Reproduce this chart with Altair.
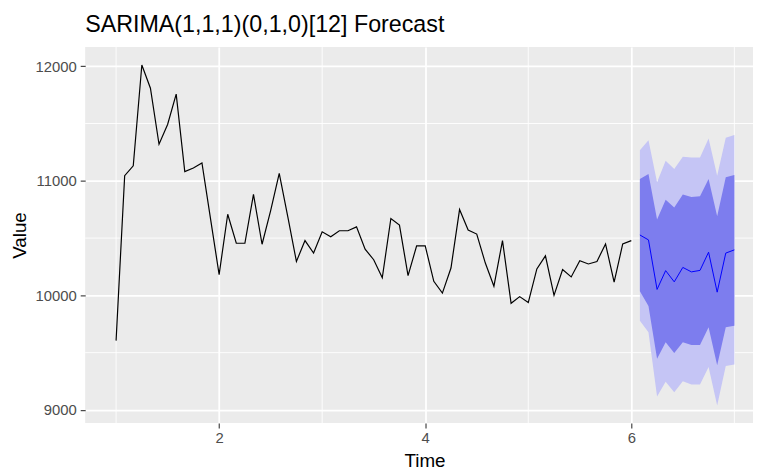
import altair as alt
import pandas as pd

# ---- data ----
chart_title = "SARIMA(1,1,1)(0,1,0)[12] Forecast"
start_time = 1
frequency = 12

obs_values = [9605, 11045, 11131, 12010, 11808, 11319, 11491, 11756, 11080, 11111, 11155, 10668,
              10181, 10708, 10455, 10455, 10881, 10446, 10740, 11065, 10685, 10296, 10478, 10369,
              10555, 10512, 10564, 10564, 10598, 10403, 10311, 10153, 10671, 10613, 10173, 10432,
              10432, 10123, 10020, 10239, 10749, 10570, 10535, 10282, 10080, 10478, 9931, 9989,
              9937, 10231, 10345, 10000, 10225, 10161, 10302, 10274, 10296, 10449, 10115, 10449,
              10478]

fc_mean = [10527, 10484, 10052, 10216, 10118, 10244, 10205, 10218, 10377, 10028, 10369, 10397]
hi80 = [11016, 11060, 10662, 10835, 10766, 10881, 10858, 10864, 11016, 10691, 11031, 11051]
lo80 = [10037, 9908, 9447, 9591, 9497, 9591, 9568, 9568, 9721, 9390, 9721, 9735]
hi95 = [11267, 11353, 10987, 11174, 11103, 11209, 11203, 11203, 11370, 11045, 11376, 11399]
lo95 = [9778, 9678, 9117, 9246, 9154, 9251, 9223, 9223, 9376, 9039, 9384, 9396]

x_major = [2, 4, 6]
x_minor = [1, 3, 5, 7]
y_major = [9000, 10000, 11000, 12000]
y_minor = [9500, 10500, 11500]

# ---- tables ----
time_obs = [start_time + i / frequency for i in range(len(obs_values))]
time_fc = [time_obs[-1] + (i + 1) / frequency for i in range(len(fc_mean))]

obs_df = pd.DataFrame({"time": time_obs, "value": obs_values})
fc_df = pd.DataFrame({"time": time_fc, "value": fc_mean,
                      "lo80": lo80, "hi80": hi80, "lo95": lo95, "hi95": hi95})
xminor_df = pd.DataFrame({"time": x_minor})
yminor_df = pd.DataFrame({"value": y_minor})

FONT = "Liberation Sans"
x_scale = alt.Scale(domain=[0.7, 7.181], nice=False, zero=False)
y_scale = alt.Scale(domain=[8886, 12167], nice=False, zero=False)

x_axis = alt.Axis(values=x_major, format="d", grid=True, gridColor="white", gridWidth=1.8,
                  domain=False, tickColor="#333333", tickSize=5, tickWidth=1.1,
                  labelColor="#4D4D4D", labelFontSize=15, labelFont=FONT, labelPadding=3,
                  title="Time", titleFont=FONT, titleFontSize=19, titleFontWeight="normal",
                  titleColor="black", titleX=343, titleY=44, titleBaseline="alphabetic",
                  titleAlign="center")
y_axis = alt.Axis(values=y_major, format="d", grid=True, gridColor="white", gridWidth=1.8,
                  domain=False, tickColor="#333333", tickSize=5, tickWidth=1.1,
                  labelColor="#4D4D4D", labelFontSize=15, labelFont=FONT, labelPadding=4,
                  title="Value", titleFont=FONT, titleFontSize=19, titleFontWeight="normal",
                  titleColor="black", titleX=-66, titleY=190, titleAngle=270,
                  titleBaseline="middle", titleAlign="center")


def X(field):
    return alt.X(f"{field}:Q", scale=x_scale, axis=x_axis)


def Y(field):
    return alt.Y(f"{field}:Q", scale=y_scale, axis=y_axis)


vgrid = alt.Chart(xminor_df).mark_rule(color="white", strokeWidth=0.9).encode(x=X("time"))
hgrid = alt.Chart(yminor_df).mark_rule(color="white", strokeWidth=0.9).encode(y=Y("value"))

band95 = alt.Chart(fc_df).mark_area(color="#C5C5F5", opacity=1).encode(
    x=X("time"), y=Y("lo95"), y2="hi95")
band80 = alt.Chart(fc_df).mark_area(color="#7D7DEE", opacity=1).encode(
    x=X("time"), y=Y("lo80"), y2="hi80")
fc_line = alt.Chart(fc_df).mark_line(color="#0000FF", strokeWidth=1).encode(
    x=X("time"), y=Y("value"))
obs_line = alt.Chart(obs_df).mark_line(color="black", strokeWidth=1.2).encode(
    x=X("time"), y=Y("value"))

chart = alt.layer(vgrid, hgrid, band95, band80, fc_line, obs_line).properties(
    width=675,
    height=380,
    autosize=alt.AutoSizeParams(type="none"),
    padding={"left": 78, "top": 37, "right": 0, "bottom": 45},
    title=alt.TitleParams(chart_title, anchor="start", frame="group", font=FONT,
                          fontSize=23.5, fontWeight="normal", color="black",
                          baseline="alphabetic", offset=13, dy=22),
).configure(
    background="white",
    view=alt.ViewConfig(fill="#EBEBEB", strokeWidth=0),
)

chart.save("out.html", embed_options={"renderer": "svg", "actions": False})
